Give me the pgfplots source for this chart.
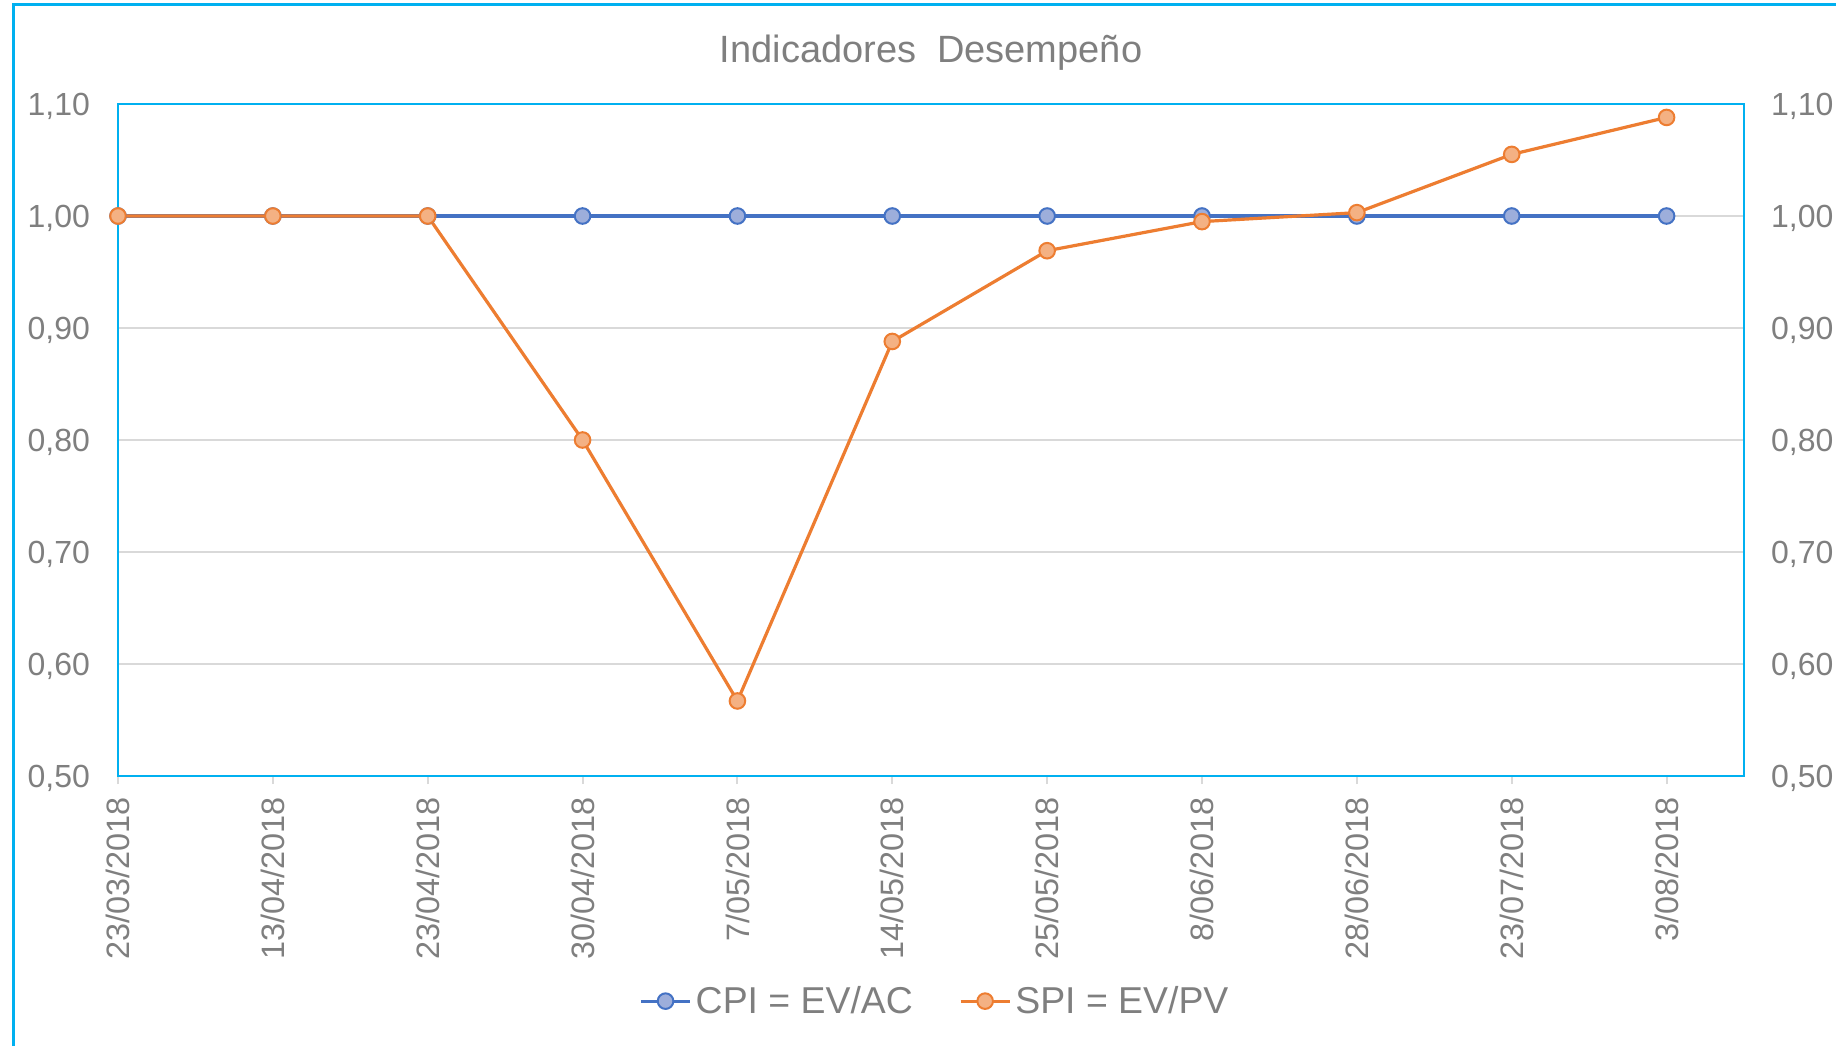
\documentclass[border=0pt]{standalone}
\usepackage{pgfplots}
\pgfplotsset{compat=1.18}
\usepackage{fontspec}
\setmainfont{Liberation Sans}
\definecolor{cpiline}{HTML}{4472C4}
\definecolor{cpifill}{HTML}{9DAEDB}
\definecolor{spiline}{HTML}{ED7D31}
\definecolor{spifill}{HTML}{F4B183}
\definecolor{frameblue}{HTML}{00B0F0}
\definecolor{txtgray}{HTML}{7F7F7F}
\definecolor{gridgray}{HTML}{D9D9D9}
\begin{document}
\begin{tikzpicture}
\path[use as bounding box] (0,0) rectangle (918pt,523pt);
\draw[frameblue, line width=1.5pt] (6.5pt,0pt) -- (6.5pt,520.5pt) -- (930pt,520.5pt);
\node[text=txtgray, font=\fontsize{19}{19}\selectfont] at (465.5pt,496.5pt) {Indicadores\ \ Desempeño};
\begin{axis}[
  at={(59pt,135pt)}, anchor=south west, scale only axis,
  width=813pt, height=336pt,
  xmin=0, xmax=10.5, ymin=0.5, ymax=1.1,
  xtick={0,1,2,3,4,5,6,7,8,9,10},
  xticklabels={23/03/2018,13/04/2018,23/04/2018,30/04/2018,7/05/2018,14/05/2018,25/05/2018,8/06/2018,28/06/2018,23/07/2018,3/08/2018},
  x tick label style={rotate=90, anchor=east, font=\fontsize{16.2}{16.2}\selectfont, text=txtgray, xshift=-3pt},
  xtick pos=lower, tick align=outside, major tick length=4pt,
  x tick style={gridgray, line width=1pt},
  ytick={0.5,0.6,0.7,0.8,0.9,1.0,1.1},
  y tick style={draw=none},
  ytick pos=left,
  yticklabel style={font=\fontsize{16}{16}\selectfont, text=txtgray, xshift=-6.5pt, yshift=-1pt,
    /pgf/number format/.cd, use comma, fixed, fixed zerofill, precision=2, assume math mode=true},
  ymajorgrids, grid style={gridgray, line width=1pt},
  axis line style={frameblue, line width=1pt},
  legend columns=2,
  legend style={draw=none, fill=none, font=\fontsize{18.7}{18.7}\selectfont, text=txtgray,
    at={(0.503,-0.335)}, anchor=center,
    /tikz/every even column/.append style={column sep=21pt}},
  legend image code/.code={\draw[mark repeat=2, mark phase=2] plot coordinates {(0pt,0pt) (12.3pt,0pt) (24.6pt,0pt)};},
]
\addplot[cpiline, line width=1.6pt, mark=*, mark size=3.9pt, mark options={fill=cpifill, draw=cpiline, line width=1pt}]
 coordinates {(0,1) (1,1) (2,1) (3,1) (4,1) (5,1) (6,1) (7,1) (8,1) (9,1) (10,1)};
\addlegendentry{CPI = EV/AC}
\addplot[spiline, line width=1.6pt, mark=*, mark size=3.9pt, mark options={fill=spifill, draw=spiline, line width=1pt}]
 coordinates {(0,1) (1,1) (2,1) (3,0.80) (4,0.567) (5,0.888) (6,0.969) (7,0.995) (8,1.003) (9,1.055) (10,1.088)};
\addlegendentry{SPI = EV/PV}
\end{axis}
\begin{axis}[
  at={(59pt,135pt)}, anchor=south west, scale only axis,
  width=813pt, height=336pt,
  xmin=0, xmax=10.5, ymin=0.5, ymax=1.1,
  xtick=\empty,
  ytick={0.5,0.6,0.7,0.8,0.9,1.0,1.1},
  ytick pos=right, yticklabel pos=right,
  y tick style={draw=none},
  yticklabel style={font=\fontsize{16}{16}\selectfont, text=txtgray, xshift=10pt, yshift=-1pt,
    /pgf/number format/.cd, use comma, fixed, fixed zerofill, precision=2, assume math mode=true},
  axis line style={draw=none},
]
\end{axis}
\end{tikzpicture}
\end{document}
